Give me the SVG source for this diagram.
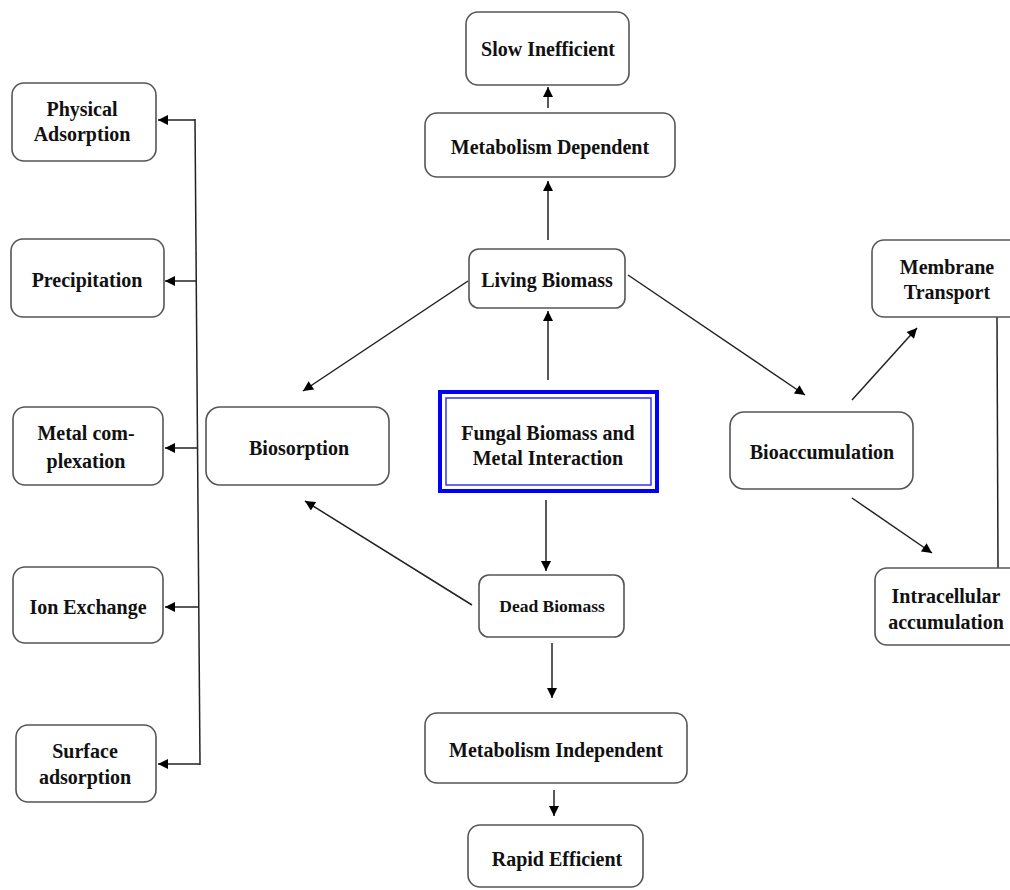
<svg xmlns="http://www.w3.org/2000/svg" width="1010" height="890" viewBox="0 0 1010 890">
<defs>
<marker id="ah" viewBox="0 0 10 10" refX="10" refY="5" markerWidth="12" markerHeight="10" markerUnits="userSpaceOnUse" orient="auto">
<path d="M0,0 L10,5 L0,10 z" fill="#000"/>
</marker>
<style>
.box{fill:#fff;stroke:#555;stroke-width:1.6}
.t{font-family:"Liberation Serif","Times New Roman",serif;font-weight:bold;font-size:20px;fill:#111;text-anchor:middle}
.s{font-size:17.5px}
.c{fill:none;stroke:#222;stroke-width:1.5}
.a{marker-end:url(#ah)}
</style>
</defs>
<rect width="1010" height="890" fill="#fff"/>
<g id="connectors">
<line class="c a" x1="548" y1="108" x2="548" y2="87"/>
<line class="c a" x1="548" y1="240" x2="548" y2="181"/>
<line class="c a" x1="548" y1="380" x2="548" y2="311"/>
<line class="c a" x1="546" y1="500" x2="546" y2="571"/>
<line class="c a" x1="552" y1="643" x2="552" y2="698"/>
<line class="c a" x1="554" y1="790" x2="554" y2="816"/>
<line class="c a" x1="468" y1="281" x2="303" y2="391"/>
<line class="c a" x1="472" y1="605" x2="305" y2="501"/>
<line class="c a" x1="628" y1="275" x2="805" y2="395"/>
<line class="c a" x1="852" y1="400" x2="917" y2="328"/>
<line class="c a" x1="852" y1="498" x2="932" y2="553"/>
<line class="c" x1="997" y1="317" x2="998" y2="568"/>
<line class="c" x1="195" y1="119" x2="200" y2="765"/>
<line class="c a" x1="195" y1="120" x2="158" y2="120"/>
<line class="c a" x1="197" y1="281" x2="165" y2="281"/>
<line class="c a" x1="198" y1="448" x2="165" y2="448"/>
<line class="c a" x1="199" y1="607" x2="165" y2="607"/>
<line class="c a" x1="200" y1="764" x2="158" y2="764"/>
</g>
<g id="slow-inefficient">
<rect class="box" x="466" y="12" width="163" height="73" rx="12"/>
<text class="t" x="548" y="56">Slow Inefficient</text>
</g>
<g id="metabolism-dependent">
<rect class="box" x="425" y="113" width="250" height="64" rx="12"/>
<text class="t" x="550" y="154">Metabolism Dependent</text>
</g>
<g id="living-biomass">
<rect class="box" x="469" y="249" width="156" height="59" rx="10"/>
<text class="t" x="547" y="287">Living Biomass</text>
</g>
<g id="fungal-biomass">
<rect x="440" y="392" width="217" height="99" fill="#fff" stroke="#0000ff" stroke-width="4"/>
<rect x="446" y="398" width="205" height="87" fill="none" stroke="#3333ff" stroke-width="1.5"/>
<text class="t" x="548" y="440">Fungal Biomass and</text>
<text class="t" x="548" y="465">Metal Interaction</text>
</g>
<g id="dead-biomass">
<rect class="box" x="479" y="575" width="145" height="62" rx="10"/>
<text class="t s" x="552" y="612">Dead Biomass</text>
</g>
<g id="metabolism-independent">
<rect class="box" x="425" y="713" width="262" height="70" rx="12"/>
<text class="t" x="556" y="757">Metabolism Independent</text>
</g>
<g id="rapid-efficient">
<rect class="box" x="468" y="825" width="175" height="62" rx="12"/>
<text class="t" x="557" y="866">Rapid Efficient</text>
</g>
<g id="biosorption">
<rect class="box" x="206" y="407" width="183" height="78" rx="14"/>
<text class="t" x="299" y="455">Biosorption</text>
</g>
<g id="bioaccumulation">
<rect class="box" x="730" y="412" width="183" height="77" rx="14"/>
<text class="t" x="822" y="459">Bioaccumulation</text>
</g>
<g id="membrane-transport">
<rect class="box" x="872" y="240" width="150" height="77" rx="12"/>
<text class="t" x="947" y="274">Membrane</text>
<text class="t" x="947" y="299">Transport</text>
</g>
<g id="intracellular-accumulation">
<rect class="box" x="875" y="568" width="150" height="77" rx="12"/>
<text class="t" x="946" y="603">Intracellular</text>
<text class="t" x="946" y="629">accumulation</text>
</g>
<g id="physical-adsorption">
<rect class="box" x="12" y="83" width="144" height="78" rx="12"/>
<text class="t" x="82" y="116">Physical</text>
<text class="t" x="82" y="141">Adsorption</text>
</g>
<g id="precipitation">
<rect class="box" x="11" y="239" width="153" height="78" rx="12"/>
<text class="t" x="87" y="287">Precipitation</text>
</g>
<g id="metal-complexation">
<rect class="box" x="13" y="407" width="150" height="78" rx="12"/>
<text class="t" x="86" y="440">Metal com-</text>
<text class="t" x="86" y="468">plexation</text>
</g>
<g id="ion-exchange">
<rect class="box" x="13" y="567" width="150" height="76" rx="12"/>
<text class="t" x="88" y="614">Ion Exchange</text>
</g>
<g id="surface-adsorption">
<rect class="box" x="16" y="725" width="140" height="77" rx="12"/>
<text class="t" x="85" y="758">Surface</text>
<text class="t" x="85" y="784">adsorption</text>
</g>
</svg>
